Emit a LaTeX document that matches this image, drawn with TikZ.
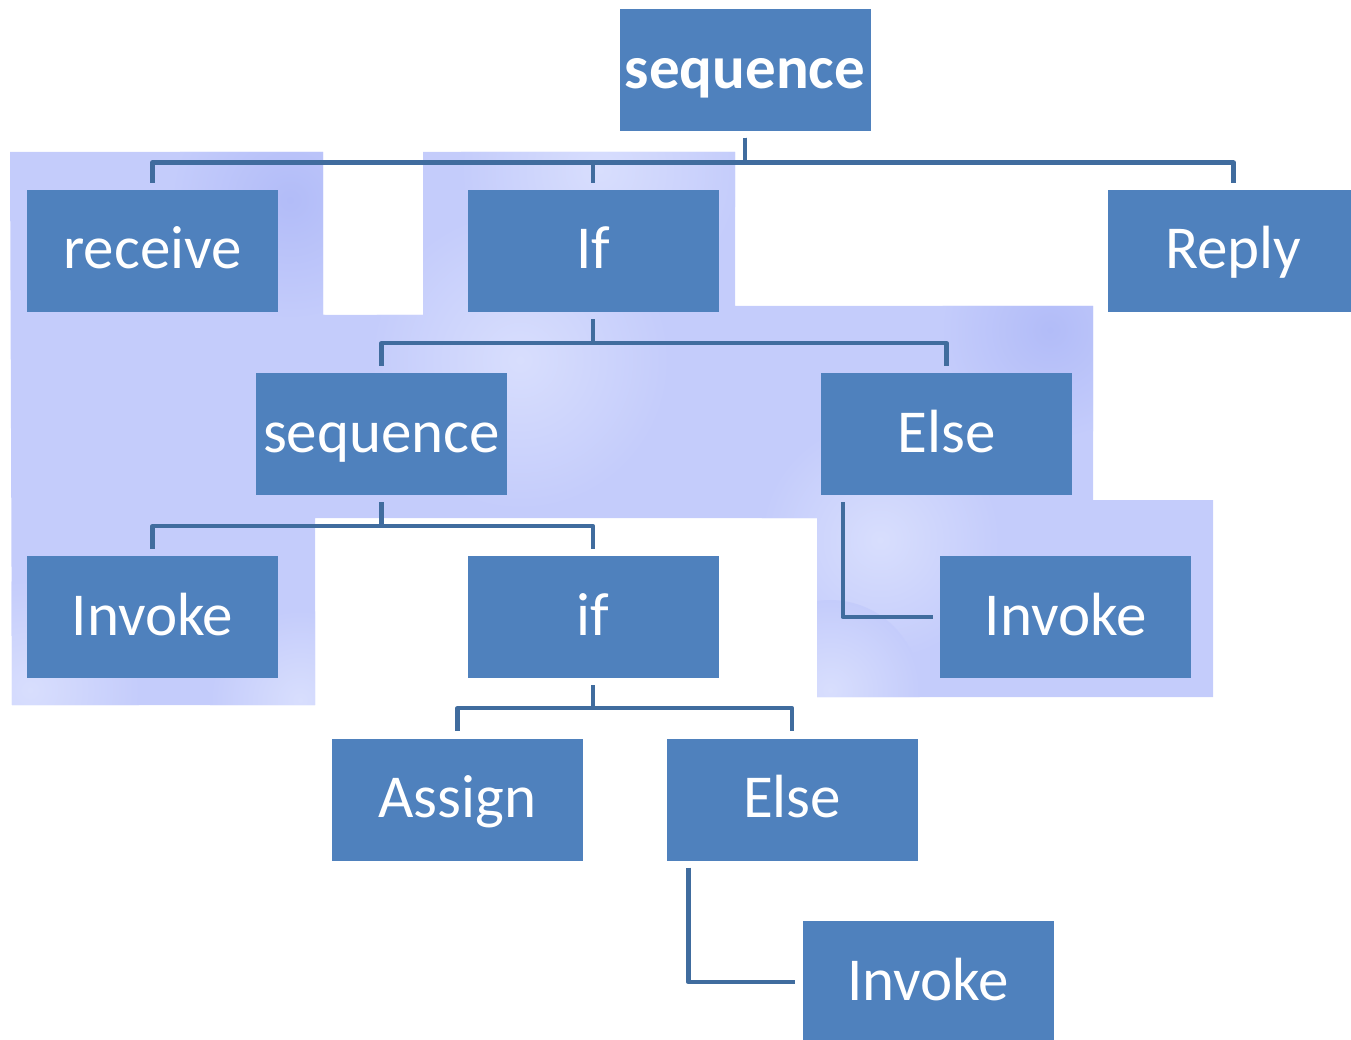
\documentclass[tikz,border=0pt]{standalone}
\usepackage{fontspec}
\setmainfont{Carlito}
\usepackage{tikz}
\definecolor{boxblue}{RGB}{79,129,189}
\definecolor{linkblue}{RGB}{64,108,158}
\definecolor{hilite}{RGB}{196,204,251}
\definecolor{hilitelight}{RGB}{216,222,253}
\definecolor{hilitedark}{RGB}{178,188,248}

\begin{document}
\begin{tikzpicture}[x=1pt,y=1pt,
  box/.style={rectangle,fill=boxblue,minimum width=251pt,minimum height=122pt,inner sep=0pt,
    text=white,font=\fontsize{61}{72}\selectfont,text height=36pt,text depth=0pt},
  link/.style={draw=linkblue,line width=4.5pt,line join=round}]
\clip (0,0) rectangle (1351,-1040);

\begin{scope}
\clip (10,-152) -- (323,-152) -- (323,-315) -- (423,-315) -- (423,-152) -- (735,-152)
  -- (735,-306) -- (1093,-306) -- (1093,-500) -- (1213,-500) -- (1213,-697) -- (817,-697)
  -- (817,-518) -- (315,-518) -- (315,-705) -- (12,-705) -- cycle;
\fill[hilite] (0,-140) rectangle (1230,-720);
\shade[inner color=hilitedark,outer color=hilite] (290,-200) circle (120);
\shade[inner color=hilitedark,outer color=hilite] (1050,-330) circle (110);
\shade[inner color=hilitelight,outer color=hilite] (600,-170) circle (140);
\shade[inner color=hilitelight,outer color=hilite] (520,-360) circle (150);
\shade[inner color=hilitelight,outer color=hilite] (880,-540) circle (120);
\shade[inner color=hilitelight,outer color=hilite] (30,-690) circle (110);
\shade[inner color=hilitelight,outer color=hilite] (300,-700) circle (90);
\shade[inner color=hilitelight,outer color=hilite] (830,-690) circle (90);
\end{scope}

\node[box,font=\fontsize{61}{72}\selectfont\bfseries] (seqTop) at (745,-70.5) {sequence};
\node[box] (recv) at (152.5,-251) {receive};
\node[box] (ifTop) at (593,-251) {If};
\node[box] (reply) at (1233.5,-251) {Reply};
\node[box] (seqMid) at (381.5,-434) {sequence};
\node[box] (elseMid) at (946.5,-434) {Else};
\node[box] (invL) at (152.5,-617) {Invoke};
\node[box] (ifMid) at (593,-617) {if};
\node[box] (invR) at (1065.5,-617) {Invoke};
\node[box] (assign) at (457.5,-799.5) {Assign};
\node[box] (elseBot) at (792,-799.5) {Else};
\node[box] (invB) at (928,-982) {Invoke};

\draw[link] ([yshift=-6pt]seqTop.south) -- ++(0,-25) -| ([yshift=7pt]recv.north);
\draw[link] ([yshift=-6pt]seqTop.south) -- ++(0,-25) -| ([yshift=7pt]ifTop.north);
\draw[link] ([yshift=-6pt]seqTop.south) -- ++(0,-25) -| ([yshift=7pt]reply.north);
\draw[link] ([yshift=-7pt]ifTop.south) -- ++(0,-24) -| ([yshift=7pt]seqMid.north);
\draw[link] ([yshift=-7pt]ifTop.south) -- ++(0,-24) -| ([yshift=7pt]elseMid.north);
\draw[link] ([yshift=-7pt]seqMid.south) -- ++(0,-24) -| ([yshift=7pt]invL.north);
\draw[link] ([yshift=-7pt]seqMid.south) -- ++(0,-24) -| ([yshift=7pt]ifMid.north);
\draw[link] ([yshift=-7pt]ifMid.south) -- ++(0,-23) -| ([yshift=7pt]assign.north);
\draw[link] ([yshift=-7pt]ifMid.south) -- ++(0,-23) -| ([yshift=7pt]elseBot.north);
\draw[link] ([xshift=22pt,yshift=-7pt]elseMid.south west) |- ([xshift=-7pt]invR.west);
\draw[link] ([xshift=22pt,yshift=-7pt]elseBot.south west) |- ([xshift=-7pt]invB.west);
\end{tikzpicture}
\end{document}
